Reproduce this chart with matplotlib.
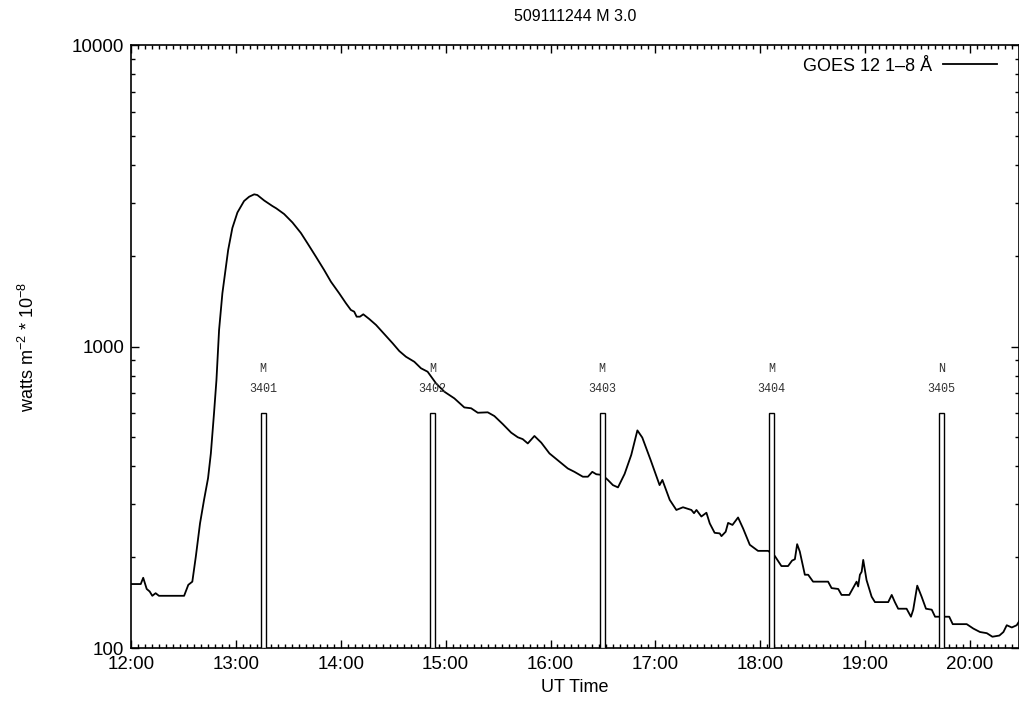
import numpy as np
import matplotlib
matplotlib.use("Agg")
from matplotlib import pyplot as plt
from matplotlib.ticker import FixedLocator, MultipleLocator, LogLocator, NullFormatter, FuncFormatter

plt.rcParams['font.family'] = ['Liberation Sans', 'DejaVu Sans']
plt.rcParams['mathtext.default'] = 'regular'

# GOES 12 1-8 A flux, minutes after 12:00 UT
t = [0.0, 5.6, 7.0, 9.0, 10.7, 12.2, 14.1, 16.0, 30.4, 32.8, 35.1, 37.1, 39.5, 41.8,
     44.1, 45.7, 47.5, 48.9, 50.4, 52.3, 55.6, 58.0, 60.9, 64.7, 67.6, 70.5, 72.3,
     76.2, 80.9, 83.1, 87.6, 92.4, 97.2, 101.0, 105.8, 110.5, 114.4, 119.1, 123.0,
     125.8, 127.7, 129.1, 131.0, 132.9, 136.3, 140.2, 144.9, 149.7, 153.5, 157.3,
     162.1, 165.9, 169.7, 174.5, 179.3, 185.0, 190.7, 194.6, 198.4, 204.1, 207.9,
     212.7, 217.5, 221.3, 224.1, 227.0, 230.8, 234.7, 239.4, 245.2, 249.9, 253.7,
     258.5, 261.4, 263.9, 266.2, 269.6, 272.8, 275.7, 278.6, 282.4, 286.2, 289.7,
     292.5, 297.3, 302.4, 304.0, 308.2, 312.0, 315.8, 320.6, 322.1, 323.5, 326.3,
     329.2, 331.1, 333.9, 336.8, 337.8, 340.2, 341.6, 344.1, 347.3, 350.2, 354.0,
     358.7, 364.5, 368.3, 372.1, 375.9, 378.2, 379.8, 381.1, 382.6, 385.5, 387.4,
     390.2, 398.8, 400.8, 404.6, 406.5, 410.9, 414.1, 415.1, 416.0, 417.0, 418.0,
     418.9, 420.8, 423.7, 425.6, 433.2, 435.2, 437.0, 438.9, 443.7, 446.2, 447.5,
     449.8, 452.3, 454.8, 458.1, 460.0, 468.1, 470.1, 478.1, 481.9, 485.7, 489.6,
     492.8, 496.8, 499.1, 501.0, 503.9, 506.7, 508.6]
flux = [163, 163, 171, 157, 154, 149, 152, 149, 149, 162, 166, 201, 259, 310,
        366, 442, 600, 774, 1134, 1502, 2090, 2472, 2783, 3038, 3139, 3197, 3180,
        3050, 2924, 2873, 2751, 2578, 2380, 2199, 1986, 1794, 1640, 1502, 1391,
        1322, 1305, 1256, 1256, 1279, 1234, 1179, 1100, 1025, 966, 925,
        890, 847, 825, 755, 708, 673, 628, 624, 603, 605, 588,
        553, 518, 500, 493, 477, 505, 480, 442, 415, 394, 384,
        370, 370, 384, 377, 375, 361, 347, 341, 378, 437, 527,
        499, 420, 347, 361, 310, 287, 293, 287, 280, 287, 273,
        281, 259, 241, 240, 235, 243, 260, 256, 271, 249, 220,
        210, 210, 202, 187, 187, 195, 197, 221, 209, 175, 175,
        166, 166, 158, 157, 150, 150, 162, 166, 160, 175, 179,
        196, 168, 148, 142, 142, 150, 142, 135, 135, 127, 134,
        161, 148, 135, 134, 127, 127, 120, 120, 116, 113, 112,
        109, 110, 113, 119, 117, 119, 124]

# NOAA active region markers
region_t = [75.6, 172.4, 269.6, 366.4, 463.8]
region_num = ['3401', '3402', '3403', '3404', '3405']
region_cls = ['M', 'M', 'M', 'M', 'N']
region_top = 600

fig = plt.figure(figsize=(10.2, 7.1), dpi=100)
ax = fig.add_axes([0.1284, 0.0873, 0.8706, 0.8493])

ax.plot(t, flux, color='black', lw=1.3, label='GOES 12 1\u20138 \u00c5')

ax.bar(region_t, [region_top - 100] * len(region_t), bottom=100, width=2.9,
       facecolor='white', edgecolor='black', lw=1.0, zorder=3)
for x, n, c in zip(region_t, region_num, region_cls):
    ax.text(x, 842, c, ha='center', va='center', fontsize=8.5,
            family='Liberation Mono', color='#333333')
    ax.text(x, 722, n, ha='center', va='center', fontsize=8.5,
            family='Liberation Mono', color='#333333')

ax.set_yscale('log')
ax.set_ylim(100, 10000)
ax.set_xlim(0, 508)

ax.xaxis.set_major_locator(MultipleLocator(60))
ax.xaxis.set_minor_locator(MultipleLocator(4))
ax.xaxis.set_major_formatter(FuncFormatter(lambda v, p: '%d:%02d' % (12 + int(v // 60), int(v % 60))))
ax.yaxis.set_major_locator(FixedLocator([100, 1000, 10000]))
ax.yaxis.set_minor_locator(LogLocator(base=10, subs=np.arange(2, 10)))
ax.yaxis.set_major_formatter(FuncFormatter(lambda v, p: '%d' % v))
ax.yaxis.set_minor_formatter(NullFormatter())

ax.tick_params(which='both', direction='in', top=True, right=True, labelsize=13.5, width=1)
ax.tick_params(which='major', length=6)
ax.tick_params(axis='x', which='major', pad=6)
ax.tick_params(axis='y', which='major', pad=5)
ax.tick_params(which='minor', length=3)
for s in ax.spines.values():
    s.set_linewidth(1.2)

ax.set_xlabel('UT Time', fontsize=13, labelpad=4)
ax.set_ylabel('watts m$^{-2}$ * 10$^{-8}$', fontsize=13, labelpad=24)
ax.set_title('509111244 M 3.0', fontsize=11.5, pad=17)

ax.legend(loc='upper right', frameon=False, fontsize=13, markerfirst=False,
          handlelength=3.0, handletextpad=0.6, borderaxespad=0.3,
          bbox_to_anchor=(0.99, 1.0))

fig.savefig('out.png', dpi=100)
